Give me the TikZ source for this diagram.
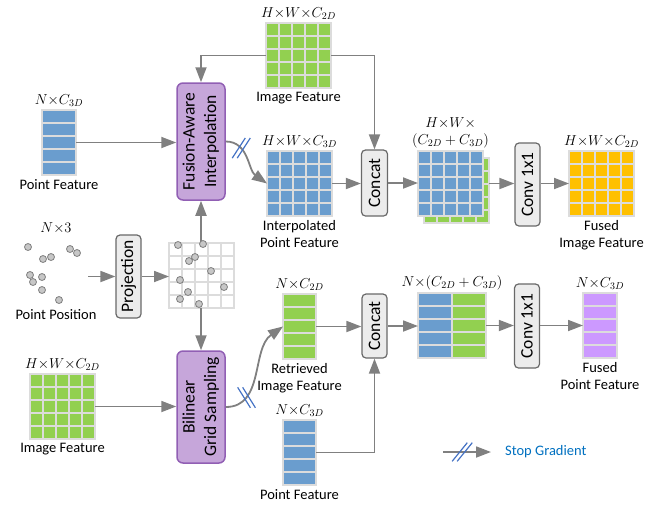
\documentclass[tikz,border=0pt]{standalone}
\usepackage{fontspec}
\setmainfont{Carlito}
\usetikzlibrary{arrows.meta,positioning}

\definecolor{featblue}{RGB}{106,157,206}
\definecolor{featgreen}{RGB}{146,208,80}
\definecolor{featyellow}{RGB}{255,192,0}
\definecolor{featpurple}{RGB}{204,153,255}
\definecolor{cellline}{RGB}{220,220,220}
\definecolor{arrowgray}{RGB}{128,128,128}
\definecolor{opfill}{RGB}{236,236,236}
\definecolor{opline}{RGB}{105,105,105}
\definecolor{fusefill}{RGB}{198,166,218}
\definecolor{fuseline}{RGB}{145,95,180}
\definecolor{sgblue}{RGB}{68,114,196}
\definecolor{legendblue}{RGB}{0,112,192}

\tikzset{
  arr/.style={draw=arrowgray, line width=1.8pt, -{Triangle[length=15pt,width=11pt]}},
  cell/.style={draw=cellline, line width=1.3pt},
  opbox/.style={draw=opline, fill=opfill, line width=1.2pt, rounded corners=4pt,
    inner sep=0pt, font=\fontsize{17.5}{21.5}\selectfont},
  fusebox/.style={opbox, draw=fuseline, fill=fusefill, line width=1.5pt, rounded corners=6pt},
  lbl/.style={inner sep=0pt, align=center, font=\fontsize{14.5}{17}\selectfont},
  dot/.style={circle, draw=gray, fill=black!22, line width=0.8pt, minimum size=7pt, inner sep=0pt},
  sgline/.style={draw=sgblue, line width=1.2pt}
}

% feature map: name, top-left corner, columns, cell width, colour (5 rows)
\newcommand{\fmap}[5]{%
  \begin{scope}[shift={#2}]
    \foreach \ci in {1,...,#3}
      \foreach \ri in {1,...,5}
        \draw[cell, fill=#5] ({(\ci-1)*#4},{(\ri-1)*13}) rectangle ++(#4,13);
  \end{scope}
  \node[inner sep=0pt, outer sep=0pt, minimum width={#3*#4pt}, minimum height=65pt,
    anchor=north west] (#1) at #2 {};
}

% stop gradient mark: coordinate name, slant
\newcommand{\stopgrad}[2]{%
  \foreach \dx in {-2.5,2.5}
    \draw[sgline] ([shift={(#2:12pt)},xshift=\dx pt]#1) -- ([shift={(#2+180:12pt)},xshift=\dx pt]#1);
}

\begin{document}
\begin{tikzpicture}[x=1pt,y=-1pt]
\useasboundingbox (0,0) rectangle (655,504);

%image feature (top)
\fmap{imgtop}{(266,23)}{5}{13}{featgreen}
\node[lbl, above=3pt of imgtop] (imgtopdim) {$H{\times}W{\times}C_{2D}$};
\node[lbl, below=4pt of imgtop] (imgtoptxt) {Image Feature};

%point feature (left)
\fmap{ptin}{(42,110)}{1}{34}{featblue}
\node[lbl, above=3pt of ptin] (ptindim) {$N{\times}C_{3D}$};
\node[lbl, below=4pt of ptin] (ptintxt) {Point Feature};

\node[fusebox, minimum width=48pt, minimum height=117pt] (fai) at (201,141.5)
  {\rotatebox{90}{\begin{tabular}{@{}c@{}}Fusion-Aware\\Interpolation\end{tabular}}};

%interpolated point feature
\fmap{interp}{(267,151)}{5}{13}{featblue}
\node[lbl, above=3pt of interp] (interpdim) {$H{\times}W{\times}C_{3D}$};
\node[lbl, below=4pt of interp] (interptxt) {Interpolated\\Point Feature};

\node[opbox, minimum width=26pt, minimum height=66pt] (cat1) at (374.5,183) {\rotatebox{90}{Concat}};

%concatenated map
\fmap{stackg}{(424,158)}{5}{13}{featgreen}
\fmap{stack}{(418,151)}{5}{13}{featblue}
\node[lbl, above=3pt of stack] (stackdim) {$H{\times}W{\times}$\\$(C_{2D}+C_{3D})$};

\node[opbox, minimum width=25pt, minimum height=83pt] (conv1) at (527.5,184.5) {\rotatebox{90}{Conv 1x1}};

\fmap{fusedimg}{(569,151)}{5}{13}{featyellow}
\node[lbl, above=3pt of fusedimg] (fusedimgdim) {$H{\times}W{\times}C_{2D}$};
\node[lbl, below=4pt of fusedimg] (fusedimgtxt) {Fused\\Image Feature};

%point position
\node[inner sep=0pt, minimum width=64pt, minimum height=62pt] (cloud) at (56,274) {};
\node[lbl, above=9pt of cloud] (clouddim) {$N{\times}3$};
\node[lbl, below=4pt of cloud] (cloudtxt) {Point Position};
\foreach \x/\y [count=\k] in {28/247, 70/249, 77/253, 43/259, 51/257, 30/275, 33/282, 42/277, 42/290, 59/300}
  \node[dot] (cp\k) at (\x,\y) {};

\node[opbox, minimum width=25pt, minimum height=83pt] (proj) at (128.5,276.5) {\rotatebox{90}{Projection}};

%projected grid
\fmap{pgrid}{(169,243)}{5}{13}{white}

\node[fusebox, minimum width=48pt, minimum height=112pt] (bgs) at (201,407)
  {\rotatebox{90}{\begin{tabular}{@{}c@{}}Bilinear\\Grid Sampling\end{tabular}}};

%image feature (bottom)
\fmap{imgbot}{(30,374)}{5}{13}{featgreen}
\node[lbl, above=3pt of imgbot] (imgbotdim) {$H{\times}W{\times}C_{2D}$};
\node[lbl, below=4pt of imgbot] (imgbottxt) {Image Feature};

\fmap{retr}{(283,294)}{1}{33}{featgreen}
\node[lbl, above=3pt of retr] (retrdim) {$N{\times}C_{2D}$};
\node[lbl, below=4pt of retr] (retrtxt) {Retrieved\\Image Feature};

\fmap{ptbot}{(283,420)}{1}{33}{featblue}
\node[lbl, above=3pt of ptbot] (ptbotdim) {$N{\times}C_{3D}$};
\node[lbl, below=4pt of ptbot] (ptbottxt) {Point Feature};

\node[opbox, minimum width=25pt, minimum height=64pt] (cat2) at (374.5,326) {\rotatebox{90}{Concat}};

\fmap{combb}{(418,293)}{1}{34}{featblue}
\fmap{combg}{(452,293)}{1}{34}{featgreen}
\node[lbl, above=3pt of combb.north east] (combdim) {$N{\times}(C_{2D}+C_{3D})$};

\node[opbox, minimum width=25pt, minimum height=84pt] (conv2) at (527,326) {\rotatebox{90}{Conv 1x1}};

\fmap{fusedpt}{(583,293)}{1}{34}{featpurple}
\node[lbl, above=3pt of fusedpt] (fusedptdim) {$N{\times}C_{3D}$};
\node[lbl, below=4pt of fusedpt] (fusedpttxt) {Fused\\Point Feature};

%arrows
\draw[arr] (imgtop.west) -| (fai.north);
\draw[arr] (imgtop.east) -| (cat1.north);
\draw[arr] (ptin.east) -- (ptin.east -| fai.west);
\draw[arr] (fai.east) to[out=0,in=145] coordinate[pos=0.3] (sgtop) (interp.west);
\draw[arr] (interp.east) -- (interp.east -| cat1.west);
\draw[arr] (cat1.east) -- (cat1.east -| stack.west);
\draw[arr] (stack.east -| stackg.east) -- (stack.east -| conv1.west);
\draw[arr] (fusedimg.west -| conv1.east) -- (fusedimg.west);

\draw[arr] (cloud.east |- proj.west) -- (proj.west);
\draw[arr] (proj.east) -- (proj.east -| pgrid.west);
\draw[arr] (pgrid.north -| fai) -- (fai.south);
\draw[arr] (pgrid.south -| bgs) -- (bgs.north);
\draw[arr] (imgbot.east) -- (imgbot.east -| bgs.west);
\draw[arr] (bgs.east) to[out=0,in=215] coordinate[pos=0.25] (sgbot) (retr.west);
\draw[arr] (retr.east) -- (retr.east -| cat2.west);
\draw[arr] (ptbot.east) -| (cat2.south);
\draw[arr] (cat2.east) -- (cat2.east -| combb.west);
\draw[arr] (combg.east) -- (combg.east -| conv2.west);
\draw[arr] (fusedpt.west -| conv2.east) -- (fusedpt.west);

\stopgrad{sgtop}{57}
\stopgrad{sgbot}{-58}

%points on the grid
\foreach \x/\y [count=\k] in {178/245, 203/244, 195/257, 189/261, 211/271, 180/280, 224/287, 188/292, 180/299, 199/304}
  \node[dot] (gp\k) at (\x,\y) {};

%legend
\coordinate (lgstart) at (443,452);
\node[lbl, anchor=west, text=legendblue] (lgtxt) at (505,452) {Stop Gradient};
\draw[arr] (lgstart) -- coordinate[pos=0.4] (sglg) ([xshift=-14pt]lgtxt.west);
\stopgrad{sglg}{51}

\end{tikzpicture}
\end{document}
